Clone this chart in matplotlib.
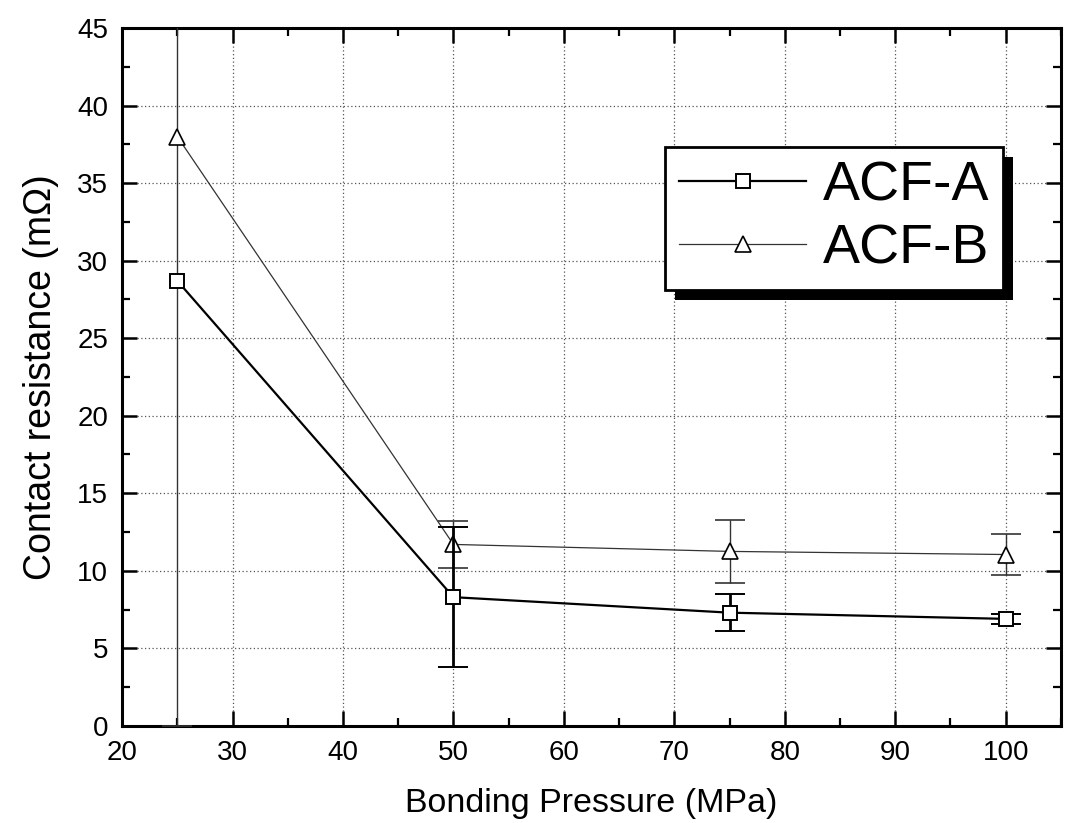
import matplotlib
matplotlib.use("Agg")
import matplotlib.pyplot as plt
from matplotlib.patches import Rectangle
from matplotlib.ticker import MultipleLocator

plt.rcParams["font.family"] = ["Liberation Sans", "DejaVu Sans"]

# ── data ───────────────────────────────────────────────────────────────────────
pressure = [25, 50, 75, 100]                 # MPa
acf_a = [28.7, 8.3, 7.3, 6.9]                 # mΩ
acf_a_err = [float("nan"), 4.5, 1.2, 0.3]
acf_b = [38.0, 11.7, 11.25, 11.05]
acf_b_err = [38.0, 1.5, 2.05, 1.35]

# ── canvas ─────────────────────────────────────────────────────────────────────
fig = plt.figure(figsize=(10.65, 8.23), dpi=100)
ax = fig.add_axes([0.1146, 0.118, 0.8816, 0.848])
ax.set_xlim(20, 105)
ax.set_ylim(0, 45)

ax.grid(True, which="major", linestyle=(0, (1, 2)), color="#555555", linewidth=0.9)
ax.set_axisbelow(True)

eb_a = ax.errorbar(pressure, acf_a, yerr=acf_a_err, color="black", lw=1.6,
                   marker="s", ms=9.5, mfc="white", mec="black", mew=1.4,
                   capsize=11, capthick=2.0, elinewidth=2.0, zorder=4)
eb_b = ax.errorbar(pressure, acf_b, yerr=acf_b_err, color="#333333", lw=0.9,
                   marker="^", ms=11, mfc="white", mec="black", mew=1.2,
                   capsize=11, capthick=1.5, elinewidth=1.0, zorder=3)

# ── axes styling ───────────────────────────────────────────────────────────────
ax.xaxis.set_major_locator(MultipleLocator(10))
ax.xaxis.set_minor_locator(MultipleLocator(5))
ax.yaxis.set_major_locator(MultipleLocator(5))
ax.yaxis.set_minor_locator(MultipleLocator(2.5))
ax.tick_params(which="both", direction="in", top=True, right=True,
               labelsize=20, pad=10)
ax.tick_params(which="major", length=11, width=1.8)
ax.tick_params(which="minor", length=6, width=1.6)
for sp in ax.spines.values():
    sp.set_linewidth(2.2)

ax.set_xlabel("Bonding Pressure (MPa)", fontsize=24.5, labelpad=16)
ax.set_ylabel("Contact resistance (m\u03a9)", fontsize=27, labelpad=13)

# ── legend with a hard black drop shadow ───────────────────────────────────────
leg = ax.legend([eb_a.lines[0], eb_b.lines[0]], ["ACF-A", "ACF-B"],
                loc="upper left", bbox_to_anchor=(0.578, 0.83), borderaxespad=0,
                fontsize=40, handlelength=2.3, handletextpad=0.3,
                labelspacing=0.2, borderpad=0.25, fancybox=False,
                framealpha=1, edgecolor="black")
leg.get_frame().set_linewidth(2.0)
leg.set_zorder(6)

fig.canvas.draw()
bb = leg.get_window_extent().transformed(ax.transAxes.inverted())
dx, dy = 10 / (ax.bbox.width), 10 / (ax.bbox.height)
shadow = Rectangle((bb.x0 + dx, bb.y0 - dy), bb.width, bb.height,
                   transform=ax.transAxes, facecolor="black", edgecolor="none",
                   zorder=5.5, clip_on=False)
ax.add_patch(shadow)

fig.savefig("out.png", dpi=100, facecolor="white")
